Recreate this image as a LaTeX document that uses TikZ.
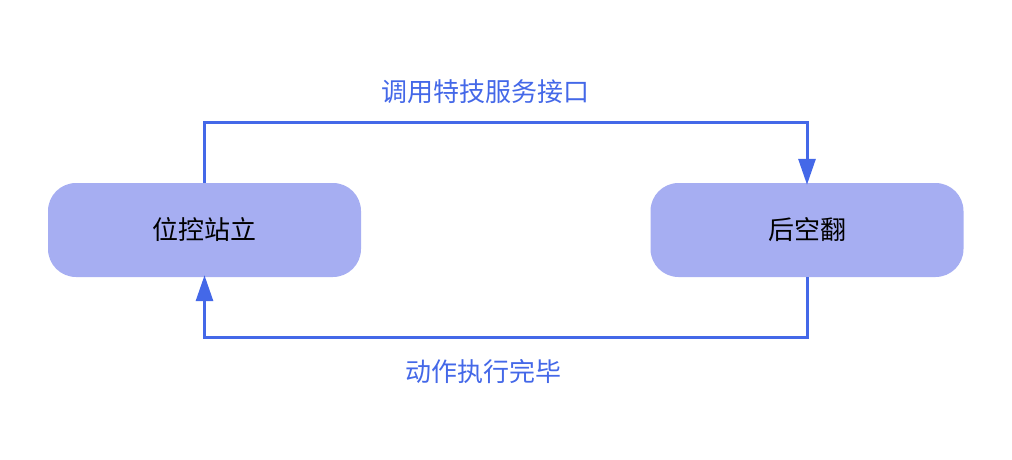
\documentclass[tikz,border=0pt]{standalone}
\usepackage{fontspec}
\setmainfont{Noto Sans CJK SC}
\usetikzlibrary{arrows.meta}
\definecolor{boxfill}{HTML}{A6AEF2}
\definecolor{flowblue}{HTML}{4468E8}
\tikzset{
  statebox/.style={fill=boxfill, draw=none, rounded corners=28pt, minimum width=313pt, minimum height=94pt, inner sep=0pt, font=\fontsize{26}{31}\selectfont, text=black},
  flow/.style={draw=flowblue, line width=3pt, -{Triangle[width=17pt,length=26pt]}},
  flowlabel/.style={text=flowblue, font=\fontsize{26}{31}\selectfont, inner sep=0pt}
}
\begin{document}
\begin{tikzpicture}[x=1pt,y=-1pt]
\useasboundingbox (0,0) rectangle (1012,460);
\node[statebox] (lb) at (204.5,230) {位控站立};
\node[statebox] (rb) at (807,230) {后空翻};
\draw[flow, shorten >=-2pt] (lb.north) -- ++(0,-60) coordinate (tl) -| (rb.north);
\draw[flow, shorten >=-2pt] (rb.south) -- ++(0,60) coordinate (br) -| (lb.south);
\node[flowlabel] (l1) at (485,92) {调用特技服务接口};
\node[flowlabel] (l2) at (483,372) {动作执行完毕};
\end{tikzpicture}
\end{document}
